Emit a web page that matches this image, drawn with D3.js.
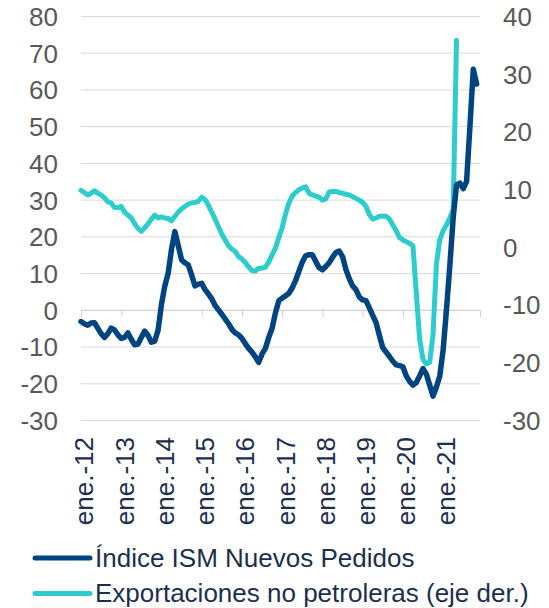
<!DOCTYPE html>
<html>
<head>
<meta charset="utf-8">
<script src="https://cdn.jsdelivr.net/npm/d3@7"></script>
<style>
  body { margin: 0; background: #fff; }
  svg { font-family: "Liberation Sans", Arial, sans-serif; }
  .grid line { stroke: #d9d9d9; stroke-width: 1; }
  .grid path { display: none; }
</style>
</head>
<body>
<svg id="chart" width="549" height="608"></svg>
<script>
// etiquetas del eje x (enero de cada año)
const anios = ["ene.-12", "ene.-13", "ene.-14", "ene.-15", "ene.-16", "ene.-17", "ene.-18", "ene.-19", "ene.-20", "ene.-21"]

// ticks de los ejes
const ticksIzq = [80, 70, 60, 50, 40, 30, 20, 10, 0, -10, -20, -30]
const ticksDer = [40, 30, 20, 10, 0, -10, -20, -30]

// Índice ISM Nuevos Pedidos, mensual desde ene-2012 (eje izq.)
const ism = [
  -3.2, -3.8, -4.2, -3.6, -3.5, -5.0, -6.5, -7.5, -6.5, -5.0, -5.5, -6.8,
  -7.8, -7.5, -6.3, -8.0, -9.5, -9.3, -7.5, -5.8, -7.0, -8.8, -8.5, -5.5,
  1.5, 6.5, 10.0, 16.5, 21.3, 17.5, 13.6, 12.8, 12.2, 9.5, 6.5, 7.0,
  7.2, 5.5, 4.3, 3.0, 1.2, 0.0, -1.2, -2.5, -3.8, -5.3, -6.3, -6.8,
  -7.8, -9.2, -10.5, -11.5, -12.8, -14.3, -12.0, -10.5, -7.5, -5.0, -0.8, 2.5,
  3.2, 3.8, 4.5, 6.0, 8.0, 10.5, 13.0, 14.7, 15.0, 15.0, 13.2, 11.5,
  10.9, 11.8, 12.8, 14.3, 15.6, 16.0, 14.5, 11.0, 8.5, 6.5, 5.5, 3.5,
  2.7, 2.5, 0.5, -1.5, -3.5, -7.0, -10.3, -11.5, -12.7, -14.0, -15.0, -15.2,
  -15.5, -18.0, -19.5, -20.5, -19.8, -18.0, -16.0, -17.5, -20.5, -23.5, -21.0, -18.0,
  -11.0, 0.0, 12.0, 25.0, 34.0, 34.5, 33.0, 35.0, 50.0, 65.5, 61.5
]

// Exportaciones no petroleras, mensual desde ene-2012 (eje der.)
const expo = [
  9.8, 9.4, 9.0, 9.3, 9.7, 9.3, 9.0, 8.5, 7.8, 7.6, 6.8, 6.8,
  7.0, 6.0, 5.5, 5.0, 4.0, 3.2, 2.7, 3.3, 4.0, 4.8, 5.5, 5.0,
  5.2, 5.0, 4.9, 4.5, 5.3, 6.0, 6.6, 7.0, 7.4, 7.6, 7.7, 7.9,
  8.6, 8.2, 7.2, 6.0, 4.8, 3.5, 2.2, 1.2, 0.2, -0.4, -0.8, -1.7,
  -2.1, -2.7, -3.5, -4.1, -4.2, -3.7, -3.7, -3.5, -2.6, -1.4, -0.2, 1.6,
  3.3, 5.7, 7.6, 8.8, 9.4, 9.9, 10.2, 10.4, 9.3, 9.0, 8.8, 8.6,
  8.1, 8.3, 9.5, 9.6, 9.6, 9.4, 9.3, 9.1, 9.0, 8.7, 8.4, 8.1,
  7.7, 7.0, 5.6, 4.8, 5.0, 5.3, 5.3, 5.3, 4.8, 3.8, 2.8, 1.6,
  1.2, 0.9, 0.6, 0.2, -8.0, -16.0, -19.5, -20.3, -20.0, -15.0, -3.0, 1.2,
  2.8, 3.8, 5.0, 6.5, 35.8
]

const series = [
  { nombre: "Índice ISM Nuevos Pedidos", color: "#004481" },
  { nombre: "Exportaciones no petroleras (eje der.)", color: "#2dcccd" }
]

const svg = d3.select("#chart")

const margin = { top: 16, right: 69, bottom: 188, left: 81 }
const width = 549 - margin.left - margin.right
const height = 608 - margin.top - margin.bottom

const chart = svg.append("g")
  .attr("transform", "translate(" + margin.left + "," + margin.top + ")")

const x = d3.scaleLinear().domain([0, 119]).range([0, width])
const yIzq = d3.scaleLinear().domain([-30, 80]).range([height, 0])
const yDer = d3.scaleLinear().domain([-30, 40]).range([height, 0])

// numeros con guion normal
const fmt = d => String(d)

// grid
chart.append("g")
  .attr("class", "grid")
  .call(d3.axisLeft(yIzq)
    .tickValues(ticksIzq)
    .tickSize(-width)
    .tickFormat(""))

// eje izq
const ejeIzq = chart.append("g")
  .call(d3.axisLeft(yIzq).tickValues(ticksIzq).tickSize(0).tickPadding(23).tickFormat(fmt))
ejeIzq.select(".domain").remove()
ejeIzq.selectAll("text")
  .attr("fill", "#595959")
  .style("font-size", "26px")
  .attr("dy", "0.36em")

// eje der
const ejeDer = chart.append("g")
  .attr("transform", `translate(${width}, 0)`)
  .call(d3.axisRight(yDer).tickValues(ticksDer).tickSize(0).tickPadding(23).tickFormat(fmt))
ejeDer.select(".domain").remove()
ejeDer.selectAll("text")
  .attr("fill", "#595959")
  .style("font-size", "26px")
  .attr("dy", "0.36em")

// eje x en el cero
const ejeX = chart.append("g")
  .attr("transform", `translate(0, ${yIzq(0)})`)
  .call(d3.axisBottom(x)
    .tickValues(anios.map((a, i) => i * 12))
    .tickSize(7)
    .tickFormat(""))
ejeX.select(".domain").attr("stroke", "#d0d0d0")
ejeX.selectAll(".tick line").attr("stroke", "#d0d0d0")

// etiquetas x
chart.selectAll(".lblx")
  .data(anios)
  .enter()
  .append("text")
    .attr("class", "lblx")
    .attr("transform", (d, i) => `translate(${x(i * 12) + 3}, ${height + 17}) rotate(-90)`)
    .attr("text-anchor", "end")
    .attr("dy", "0.36em")
    .attr("fill", "#1c2f4f")
    .style("font-size", "26px")
    .text(d => d)

// lineas
const lineaIzq = d3.line()
  .x((d, i) => x(i))
  .y(d => yIzq(d))

const lineaDer = d3.line()
  .x((d, i) => x(i))
  .y(d => yDer(d))

chart.append("path")
  .datum(expo)
  .attr("fill", "none")
  .attr("stroke", series[1].color)
  .attr("stroke-width", 5)
  .attr("stroke-linejoin", "round")
  .attr("stroke-linecap", "round")
  .attr("d", lineaDer)

chart.append("path")
  .datum(ism)
  .attr("fill", "none")
  .attr("stroke", series[0].color)
  .attr("stroke-width", 5.5)
  .attr("stroke-linejoin", "round")
  .attr("stroke-linecap", "round")
  .attr("d", lineaIzq)

// leyenda
const leyenda = svg.append("g")
  .selectAll("g")
  .data(series)
  .enter()
  .append("g")
    .attr("transform", (d, i) => `translate(35, ${558 + i * 35.5})`)

leyenda.append("line")
  .attr("x1", 0)
  .attr("x2", 55)
  .attr("stroke", d => d.color)
  .attr("stroke-width", 5)
  .attr("stroke-linecap", "round")

leyenda.append("text")
  .attr("x", 60)
  .attr("y", 8.5)
  .attr("fill", "#1c2f4f")
  .style("font-size", "26px")
  .text(d => d.nombre)
</script>
</body>
</html>
